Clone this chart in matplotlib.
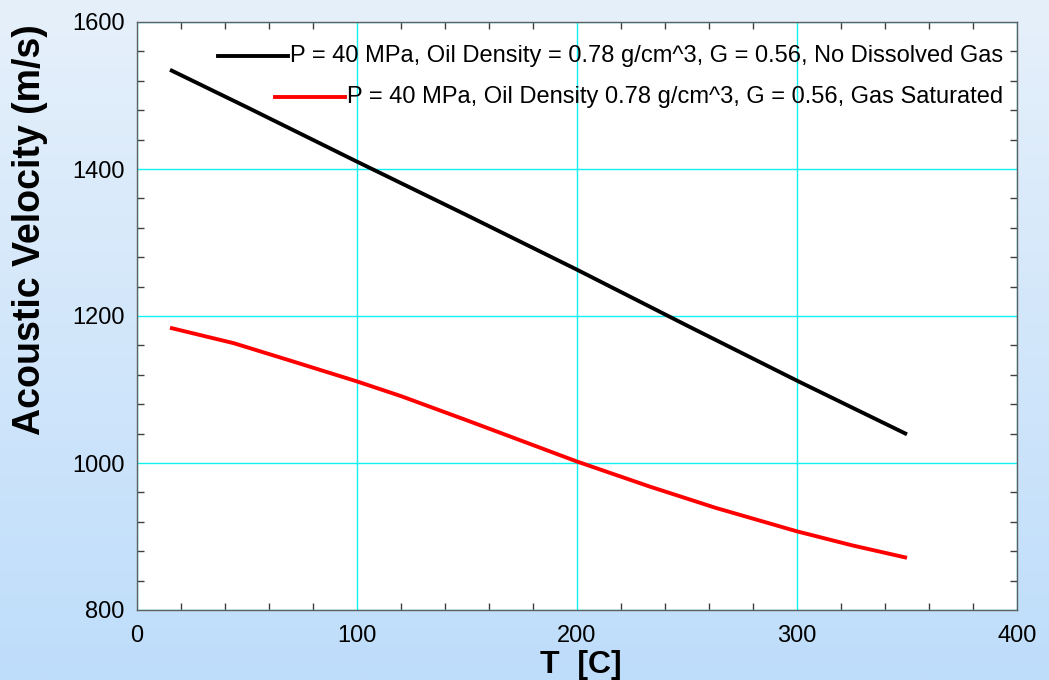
import numpy as np
import matplotlib
matplotlib.use("Agg")
import matplotlib.pyplot as plt
from matplotlib.ticker import MultipleLocator
from matplotlib.lines import Line2D

# ---- data ----
t_no_gas = [15, 50, 100, 150, 200, 250, 300, 350]
v_no_gas = [1535, 1484, 1410, 1337, 1263, 1187, 1112, 1039]

t_sat = [15, 44, 70, 100, 120, 150, 175, 200, 233, 263, 300, 325, 350]
v_sat = [1184, 1163, 1139, 1111, 1091, 1058, 1030, 1002, 968, 939, 907, 888, 871]

series_labels = [
    "P = 40 MPa, Oil Density = 0.78 g/cm^3, G = 0.56, No Dissolved Gas",
    "P = 40 MPa, Oil Density 0.78 g/cm^3, G = 0.56, Gas Saturated",
]
series_colors = ["#000000", "#ff0000"]

x_ticks = [0, 100, 200, 300, 400]
y_ticks = [800, 1000, 1200, 1400, 1600]

plt.rcParams['font.family'] = ['Liberation Sans', 'DejaVu Sans']

fig = plt.figure(figsize=(10.49, 6.8), dpi=100)

# gradient background
bg = fig.add_axes([0, 0, 1, 1], zorder=-10)
top = np.array([230, 240, 251]) / 255.0
bot = np.array([190, 221, 250]) / 255.0
n = 256
grad = np.linspace(0, 1, n)[:, None, None]
img = top[None, None, :] * (1 - grad) + bot[None, None, :] * grad
img = np.repeat(img, 2, axis=1)
bg.imshow(img, aspect='auto', extent=[0, 1, 0, 1])
bg.set_axis_off()

ax = fig.add_axes([137/1049, 1 - 610/680, (1017-137)/1049, (610-22)/680])
ax.set_facecolor('white')

ax.plot(t_no_gas, v_no_gas, color=series_colors[0], lw=2.8, solid_capstyle='butt', zorder=3)
ax.plot(t_sat, v_sat, color=series_colors[1], lw=2.8, solid_capstyle='butt', zorder=3)

ax.set_xlim(0, 400)
ax.set_ylim(800, 1600)
ax.set_xticks(x_ticks)
ax.set_yticks(y_ticks)
ax.xaxis.set_minor_locator(MultipleLocator(20))
ax.yaxis.set_minor_locator(MultipleLocator(40))
ax.grid(True, which='major', color='#10f0f0', lw=1.0, zorder=0)
ax.tick_params(which='both', direction='in', top=True, right=True, color='#404040', width=1)
ax.tick_params(which='major', length=0)
ax.tick_params(which='minor', length=5)
ax.tick_params(axis='x', which='major', labelsize=17, pad=11)
ax.tick_params(axis='y', which='major', labelsize=17, pad=9)
for s in ax.spines.values():
    s.set_color('#606060')
    s.set_linewidth(1.0)

fig.text(30/1049, 1 - 230/680, "Acoustic Velocity (m/s)", rotation=90,
         ha='center', va='center', fontsize=27, fontweight='bold')
fig.text(581/1049, 0.0, "T  [C]", ha='center', va='bottom',
         fontsize=23, fontweight='bold')

# custom right-aligned legend
fig.canvas.draw()
renderer = fig.canvas.get_renderer()
row_y = [1 - (56 - 22) / 588, 1 - (97 - 22) / 588]
text_right = (1003 - 137) / 880
line_len = 70 / 880
gap = 2 / 880
for lab, col, yy in zip(series_labels, series_colors, row_y):
    t = ax.text(text_right, yy, lab, transform=ax.transAxes, ha='right', va='center',
                fontsize=17, zorder=5)
    bb = t.get_window_extent(renderer=renderer)
    x0 = ax.transAxes.inverted().transform((bb.x0, bb.y0))[0]
    ax.add_line(Line2D([x0 - gap - line_len, x0 - gap], [yy, yy], transform=ax.transAxes,
                       color=col, lw=2.8, zorder=5))

fig.savefig("out.png", dpi=100)
